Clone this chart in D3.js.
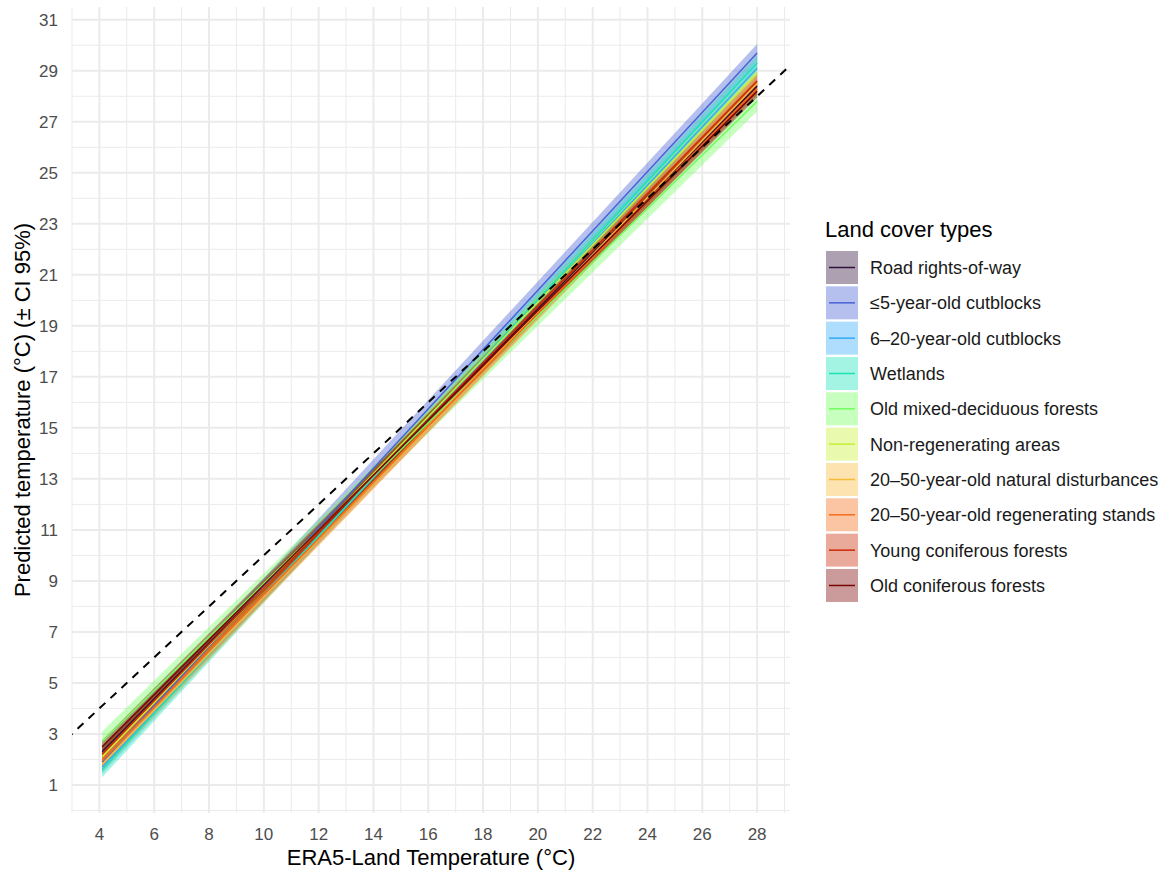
<!DOCTYPE html>
<html>
<head>
<meta charset="utf-8">
<script src="https://cdn.jsdelivr.net/npm/d3@7"></script>
<style>
  body { margin: 0; background: #fff; }
  text { font-family: "Liberation Sans", Arial, sans-serif; }
</style>
</head>
<body>
<div id="chart"></div>
<script>
// land cover categories, in legend / draw order
var categories = [
  "Road rights-of-way",
  "\u22645-year-old cutblocks",
  "6\u201320-year-old cutblocks",
  "Wetlands",
  "Old mixed-deciduous forests",
  "Non-regenerating areas",
  "20\u201350-year-old natural disturbances",
  "20\u201350-year-old regenerating stands",
  "Young coniferous forests",
  "Old coniferous forests"
];
var colors = ["#30123B", "#4662D7", "#36AAF9", "#1AE4B6", "#72FE5E",
              "#C7EF34", "#FABA39", "#F66B19", "#CB2A04", "#7A0403"];

// predicted value at the start (x = 4.1) and end (x = 28) of each line
var xStart = 4.1, xEnd = 28;
var startValues = [2.30, 1.90, 1.70, 1.60, 2.70, 2.10, 1.80, 1.95, 2.20, 2.50];
var endValues   = [28.40, 29.70, 29.10, 29.30, 27.80, 28.90, 28.50, 28.30, 28.60, 28.20];
// half width of the 95% CI
var ciHalf      = [0.25, 0.35, 0.25, 0.30, 0.40, 0.25, 0.25, 0.25, 0.25, 0.25];

var xTicks = [4, 6, 8, 10, 12, 14, 16, 18, 20, 22, 24, 26, 28];
var yTicks = [1, 3, 5, 7, 9, 11, 13, 15, 17, 19, 21, 23, 25, 27, 29, 31];

var W = 1164, H = 872;
var pLeft = 72, pRight = 790, pTop = 7, pBottom = 813;

var svg = d3.select("#chart").append("svg")
    .attr("width", W)
    .attr("height", H);

var x = d3.scaleLinear().domain([3.0, 29.2]).range([pLeft, pRight]);
var y = d3.scaleLinear().domain([-0.1, 31.5]).range([pBottom, pTop]);

// grid
var grid = svg.append("g");
var xMinor = d3.range(3, 30, 2), yMinor = d3.range(0, 32, 2);
grid.selectAll(".xminor").data(xMinor).enter().append("line")
    .attr("x1", function(d) { return x(d); }).attr("x2", function(d) { return x(d); })
    .attr("y1", pTop).attr("y2", pBottom)
    .style("stroke", "#EBEBEB").style("stroke-width", 1);
grid.selectAll(".yminor").data(yMinor).enter().append("line")
    .attr("x1", pLeft).attr("x2", pRight)
    .attr("y1", function(d) { return y(d); }).attr("y2", function(d) { return y(d); })
    .style("stroke", "#EBEBEB").style("stroke-width", 1);
grid.selectAll(".xmajor").data(xTicks).enter().append("line")
    .attr("x1", function(d) { return x(d); }).attr("x2", function(d) { return x(d); })
    .attr("y1", pTop).attr("y2", pBottom)
    .style("stroke", "#EBEBEB").style("stroke-width", 2);
grid.selectAll(".ymajor").data(yTicks).enter().append("line")
    .attr("x1", pLeft).attr("x2", pRight)
    .attr("y1", function(d) { return y(d); }).attr("y2", function(d) { return y(d); })
    .style("stroke", "#EBEBEB").style("stroke-width", 2);

svg.append("clipPath").attr("id", "panel")
   .append("rect").attr("x", pLeft).attr("y", pTop)
   .attr("width", pRight - pLeft).attr("height", pBottom - pTop);

var plot = svg.append("g").attr("clip-path", "url(#panel)");

var series = categories.map(function(c, i) {
    return { name: c, color: colors[i],
             pts: [ { x: xStart, y: startValues[i] }, { x: xEnd, y: endValues[i] } ],
             ci: ciHalf[i] };
});

var area = function(ci) {
    return d3.area()
        .x(function(d) { return x(d.x); })
        .y0(function(d) { return y(d.y - ci); })
        .y1(function(d) { return y(d.y + ci); });
};
var line = d3.line()
    .x(function(d) { return x(d.x); })
    .y(function(d) { return y(d.y); });

plot.selectAll(".ribbon").data(series).enter().append("path")
    .attr("d", function(d) { return area(d.ci)(d.pts); })
    .style("fill", function(d) { return d.color; })
    .style("fill-opacity", 0.4);

plot.selectAll(".line").data(series).enter().append("path")
    .attr("d", function(d) { return line(d.pts); })
    .style("fill", "none")
    .style("stroke", function(d) { return d.color; })
    .style("stroke-width", 1.5);

// 1:1 line
plot.append("line")
    .attr("x1", x(2)).attr("y1", y(2))
    .attr("x2", x(31)).attr("y2", y(31))
    .style("stroke", "#000")
    .style("stroke-width", 2)
    .style("stroke-dasharray", "8,7");

// axes labels
svg.selectAll(".xlab").data(xTicks).enter().append("text")
    .attr("x", function(d) { return x(d); })
    .attr("y", 840)
    .attr("text-anchor", "middle")
    .style("font-size", "17px")
    .style("fill", "#4D4D4D")
    .text(function(d) { return d; });

svg.selectAll(".ylab").data(yTicks).enter().append("text")
    .attr("x", 58)
    .attr("y", function(d) { return y(d) + 6; })
    .attr("text-anchor", "end")
    .style("font-size", "17px")
    .style("fill", "#4D4D4D")
    .text(function(d) { return d; });

svg.append("text")
    .attr("x", (pLeft + pRight) / 2)
    .attr("y", 865)
    .attr("text-anchor", "middle")
    .style("font-size", "22px")
    .text("ERA5-Land Temperature (\u00B0C)");

svg.append("text")
    .attr("transform", "translate(30," + ((pTop + pBottom) / 2) + ") rotate(-90)")
    .attr("text-anchor", "middle")
    .style("font-size", "22px")
    .text("Predicted temperature (\u00B0C) (\u00B1 CI 95%)");

// legend
var legend = svg.append("g").attr("transform", "translate(825,0)");
legend.append("text")
    .attr("x", 0).attr("y", 237)
    .style("font-size", "22px")
    .text("Land cover types");

var keys = legend.selectAll(".key").data(series).enter().append("g")
    .attr("transform", function(d, i) { return "translate(0," + (251 + i * 35.33) + ")"; });
keys.append("rect")
    .attr("x", 1).attr("y", 0).attr("width", 32).attr("height", 33)
    .style("fill", function(d) { return d.color; })
    .style("fill-opacity", 0.4);
keys.append("line")
    .attr("x1", 4).attr("x2", 30).attr("y1", 16.5).attr("y2", 16.5)
    .style("stroke", function(d) { return d.color; })
    .style("stroke-width", 1.5);
keys.append("text")
    .attr("x", 45).attr("y", 23)
    .style("font-size", "18px")
    .style("fill", "#1A1A1A")
    .text(function(d) { return d.name; });
</script>
</body>
</html>
